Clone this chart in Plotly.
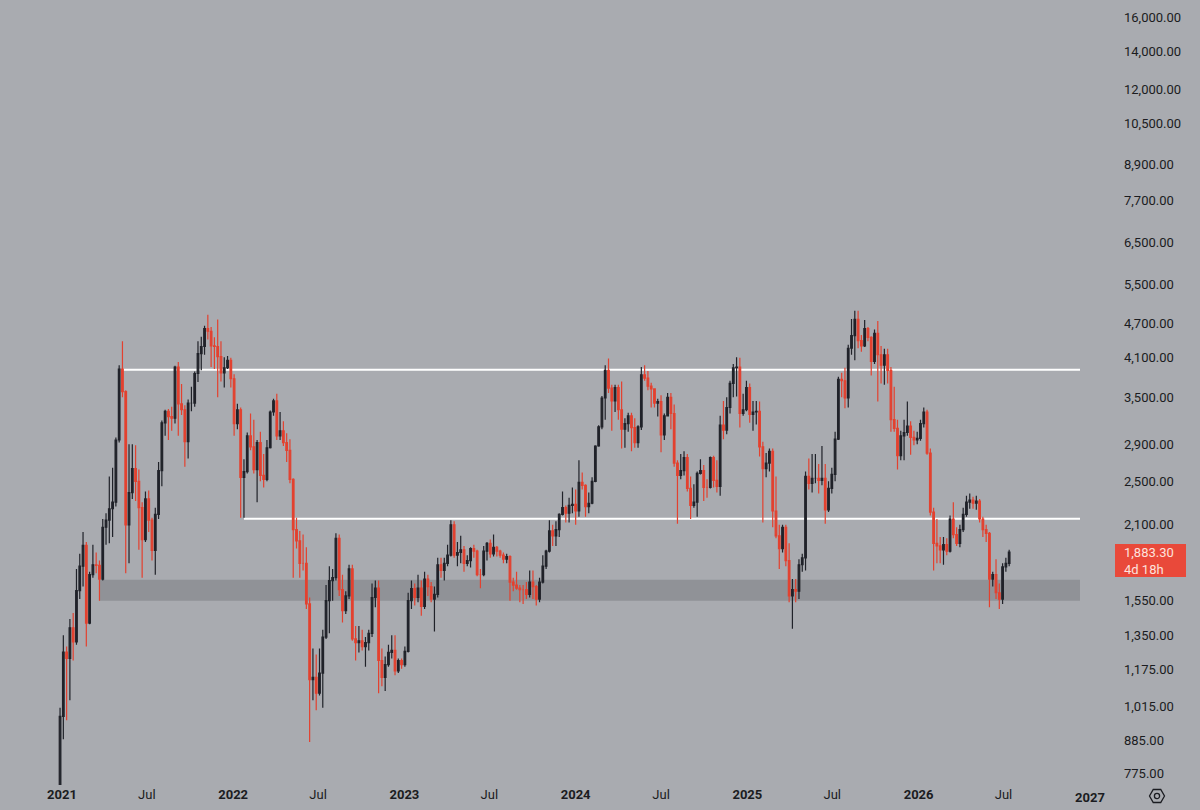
import math
import pandas as pd
import plotly.graph_objects as go

# ---------------- data (weekly candles, week starting Monday) ----------------
first_week = "2020-12-28"
first_open = 737

close_2021 = [975, 1262, 1230, 1391, 1314, 1614, 1780, 1935, 1417, 1720, 1790, 1785, 1690, 2080, 2140, 2240, 2300, 2950,
              3920, 3580, 2100, 2390, 2630, 2500, 2250, 1980, 2330, 2140, 1895, 2190, 2610, 3160, 3310, 3240, 3220, 3950,
              3410, 3330, 2930, 3420, 3420, 3850, 4170, 4290, 4610, 4560, 4300, 4290, 4120, 3860, 3940, 4060, 3770]
high_2021 = [1010, 1350, 1290, 1440, 1476, 1760, 1870, 2040, 1960, 1740, 1940, 1880, 1820, 2150, 2200, 2550, 2640, 2980,
             3980, 4380, 3600, 2900, 2900, 2890, 2620, 2300, 2400, 2410, 2160, 2250, 2700, 3190, 3330, 3340, 3370, 3970,
             4030, 3690, 3390, 3470, 3650, 3880, 4380, 4460, 4660, 4870, 4640, 4450, 4780, 4380, 4110, 4130, 4100]
low_2021 = [714, 890, 960, 1040, 1220, 1300, 1560, 1640, 1290, 1410, 1700, 1730, 1550, 1680, 1940, 1950, 2000, 2260,
            2920, 3500, 1730, 1800, 2330, 2310, 1900, 1700, 1960, 2040, 1820, 1720, 2150, 2450, 3000, 2950, 3060, 3150,
            3000, 3260, 2650, 2740, 3310, 3370, 3720, 3900, 4150, 4410, 3950, 3920, 3500, 3730, 3640, 3920, 3640]

close_2022 = [3150, 3330, 2540, 2600, 3000, 2870, 2620, 2920, 2560, 2520, 2860, 3300, 3450, 3000, 3060, 2920, 2830, 2520,
              2060, 1970, 1800, 1800, 1530, 1130, 1140, 1070, 1160, 1340, 1550, 1680, 1700, 1990, 1620, 1490, 1580, 1760,
              1330, 1310, 1320, 1290, 1310, 1360, 1570, 1630, 1220, 1140, 1200, 1260, 1270, 1170, 1220, 1200]
high_2022 = [3840, 3410, 3360, 2730, 3040, 3280, 3200, 2950, 3050, 2790, 2950, 3320, 3480, 3550, 3300, 3180, 3030, 2960,
             2530, 2160, 2050, 2020, 1920, 1570, 1280, 1250, 1280, 1380, 1650, 1780, 1760, 2030, 2020, 1720, 1610, 1790,
             1790, 1400, 1400, 1380, 1340, 1380, 1660, 1680, 1680, 1280, 1240, 1300, 1350, 1350, 1230, 1230]
low_2022 = [3000, 3080, 2160, 2160, 2580, 2830, 2580, 2300, 2500, 2440, 2500, 2850, 3250, 2950, 2950, 2880, 2700, 2480,
            1700, 1910, 1700, 1750, 1500, 880, 1040, 1000, 1060, 1010, 1330, 1360, 1550, 1680, 1580, 1420, 1470, 1560,
            1320, 1220, 1260, 1270, 1190, 1270, 1340, 1510, 1070, 1100, 1080, 1190, 1230, 1150, 1160, 1180]

close_2023 = [1265, 1550, 1627, 1570, 1630, 1515, 1690, 1640, 1560, 1590, 1790, 1750, 1800, 1860, 2100, 1860, 1880, 1900,
              1800, 1820, 1910, 1890, 1720, 1720, 1890, 1950, 1870, 1920, 1890, 1860, 1830, 1850, 1670, 1650, 1630, 1620,
              1620, 1590, 1670, 1640, 1560, 1670, 1780, 1890, 2050, 2010, 2060, 2190, 2250, 2200, 2270, 2280]
high_2023 = [1290, 1600, 1680, 1660, 1720, 1680, 1740, 1720, 1670, 1640, 1840, 1840, 1840, 1940, 2140, 2130, 1960, 2010,
             1930, 1860, 1920, 1940, 1900, 1760, 1930, 1960, 1980, 2020, 1930, 1900, 1880, 1870, 1860, 1700, 1740, 1650,
             1650, 1670, 1750, 1750, 1650, 1700, 1860, 1900, 2140, 2100, 2130, 2200, 2400, 2270, 2340, 2440]
low_2023 = [1190, 1260, 1500, 1520, 1540, 1460, 1500, 1580, 1540, 1370, 1570, 1700, 1680, 1780, 1850, 1840, 1780, 1800,
            1740, 1780, 1770, 1840, 1710, 1630, 1710, 1820, 1840, 1850, 1850, 1840, 1800, 1800, 1550, 1610, 1620, 1540,
            1530, 1560, 1570, 1560, 1520, 1540, 1660, 1760, 1880, 1930, 1930, 2000, 2180, 2120, 2120, 2200]

close_2024 = [2220, 2490, 2460, 2260, 2290, 2500, 2880, 3110, 3490, 3900, 3630, 3450, 3640, 3330, 3080, 3150, 3250, 3100,
              2920, 3110, 3830, 3780, 3660, 3620, 3420, 3440, 3010, 3250, 3500, 3280, 2690, 2560, 2610, 2750, 2430, 2270,
              2300, 2580, 2610, 2440, 2440, 2750, 2510, 2450, 3130, 3070, 3360, 3700, 3940, 3950, 3280, 3330, 3640]
high_2024 = [2420, 2720, 2590, 2470, 2390, 2540, 2890, 3130, 3520, 3980, 4090, 3680, 3680, 3680, 3730, 3220, 3290, 3290,
             3220, 3130, 3950, 3980, 3890, 3710, 3630, 3480, 3530, 3280, 3560, 3560, 3400, 2720, 2790, 2820, 2790, 2550,
             2470, 2600, 2730, 2670, 2520, 2760, 2770, 2720, 3250, 3450, 3500, 3740, 4000, 4110, 4100, 3550, 3740]
low_2024 = [2100, 2170, 2420, 2170, 2200, 2280, 2490, 2870, 3080, 3200, 3560, 3060, 3300, 3200, 2850, 2860, 3050, 2820,
            2860, 2860, 3070, 3740, 3600, 3360, 3360, 3240, 2810, 2950, 3240, 3080, 2650, 2110, 2520, 2560, 2400, 2150,
            2250, 2170, 2570, 2310, 2340, 2430, 2440, 2390, 2360, 2960, 3020, 3280, 3500, 3510, 3100, 3250, 3310]

close_2025 = [3270, 3300, 3310, 2870, 2630, 2690, 2820, 2220, 2010, 1910, 2080, 1820, 1580, 1620, 1610, 1790, 1840, 2550,
              2480, 2530, 2530, 2510, 2530, 2230, 2430, 2570, 2960, 3760, 3740, 3490, 4260, 4480, 4780, 4390, 4300, 4610,
              4450, 4040, 4520, 4150, 3980, 4150, 3900, 3200, 3090, 2770, 3000, 3040, 3120, 2980, 2950, 2970]
high_2025 = [3700, 3450, 3450, 3440, 2930, 2800, 2850, 2850, 2550, 2100, 2100, 2100, 1950, 1690, 1690, 1830, 1870, 2600,
             2740, 2790, 2790, 2680, 2880, 2680, 2500, 2640, 3050, 3800, 3860, 3940, 4320, 4790, 4950, 4950, 4490, 4770,
             4640, 4470, 4590, 4750, 4300, 4250, 4250, 3950, 3650, 3200, 3060, 3200, 3440, 3180, 3060, 3050]
low_2025 = [3160, 3060, 3140, 2760, 2120, 2540, 2600, 2080, 1990, 1760, 1880, 1780, 1540, 1385, 1540, 1560, 1740, 1750,
            2420, 2390, 2480, 2380, 2460, 2110, 2210, 2380, 2500, 2950, 3500, 3350, 3360, 4150, 4060, 4260, 4200, 4280,
            4380, 3820, 4000, 3440, 3700, 3680, 3700, 3050, 3050, 2620, 2720, 2720, 3000, 2780, 2890, 2900]

close_2026 = [3150, 3300, 2800, 2210, 1950, 1930, 1900, 1940, 1890, 2150, 2020, 1950, 2060, 2190, 2300, 2320, 2290, 2310,
              2150, 2060, 2030, 1690, 1720, 1600, 1560, 1775, 1800, 1883.30]
high_2026 = [3200, 3360, 3330, 2850, 2250, 2150, 2000, 2000, 1990, 2180, 2300, 2080, 2100, 2250, 2360, 2380, 2350, 2360,
             2330, 2170, 2100, 2040, 1740, 1830, 1660, 1800, 1840, 1900]
low_2026 = [2940, 3100, 2780, 2180, 1750, 1800, 1800, 1790, 1860, 1880, 1990, 1930, 1920, 2040, 2170, 2240, 2240, 2230,
            2120, 2000, 1960, 1510, 1640, 1560, 1500, 1530, 1740, 1780]

countdown_text = "4d 18h"

# horizontal levels drawn on the chart
resistance_level = 3908
resistance_start = "2021-05-08"
support_level = 2152
support_start = "2022-01-24"
zone_low, zone_high = 1549, 1685
zone_start = "2021-03-21"

# axis ticks
y_tick_values = [775, 885, 1015, 1175, 1350, 1550, 2100, 2500, 2900, 3500, 4100, 4700, 5500, 6500, 7700, 8900,
                 10500, 12000, 14000, 16000]
x_tick_dates = ["2021-01-01", "2021-07-01", "2022-01-01", "2022-07-01", "2023-01-01", "2023-07-01", "2024-01-01",
                "2024-07-01", "2025-01-01", "2025-07-01", "2026-01-01", "2026-07-01"]
x_tick_labels = ["<b>2021</b>", "Jul", "<b>2022</b>", "Jul", "<b>2023</b>", "Jul", "<b>2024</b>", "Jul",
                 "<b>2025</b>", "Jul", "<b>2026</b>", "Jul"]
extra_year_label = "2027"
x_view = ["2020-08-22", "2026-12-11"]
y_view = [741, 17180]

# ---------------- assemble ----------------
closes = close_2021 + close_2022 + close_2023 + close_2024 + close_2025 + close_2026
highs = high_2021 + high_2022 + high_2023 + high_2024 + high_2025 + high_2026
lows = low_2021 + low_2022 + low_2023 + low_2024 + low_2025 + low_2026
opens = [first_open] + closes[:-1]
highs = [max(h, o, c) for h, o, c in zip(highs, opens, closes)]
lows = [min(l, o, c) for l, o, c in zip(lows, opens, closes)]
dates = pd.date_range(first_week, periods=len(closes), freq="7D")

BG = "#a9abb0"
UP = "#202229"
DOWN = "#e3412f"
TXT = "#1b1c21"
FONT = "Roboto, 'Noto Sans', Arial, sans-serif"
PLOT_H = 785  # plot area height in px (810 - bottom margin)


def py2paper(py):
    return 1 - py / PLOT_H


fig = go.Figure()
fig.add_trace(go.Candlestick(
    x=dates, open=opens, high=highs, low=lows, close=closes,
    increasing=dict(line=dict(color=UP, width=1.2), fillcolor=UP),
    decreasing=dict(line=dict(color=DOWN, width=1.2), fillcolor=DOWN),
    whiskerwidth=0, hoverinfo="skip", showlegend=False,
))

shapes = [
    dict(type="rect", xref="x", yref="y", x0=zone_start, x1=x_view[1], y0=zone_low, y1=zone_high,
         fillcolor="#909297", line=dict(width=0), layer="below"),
    dict(type="line", xref="x", yref="y", x0=resistance_start, x1=x_view[1], y0=resistance_level,
         y1=resistance_level, line=dict(color="#ffffff", width=2), layer="below"),
    dict(type="line", xref="x", yref="y", x0=support_start, x1=x_view[1], y0=support_level,
         y1=support_level, line=dict(color="#ffffff", width=2), layer="below"),
]

# settings (gear) icon below the price scale
gx, gy, r = 1157, 796, 7.5
hex_pts = []
for k in range(6):
    a = math.radians(60 * k)
    hex_pts.append(((gx + r * math.cos(a)) / 1200, py2paper(gy + r * math.sin(a))))
path = "M " + " L ".join(f"{x:.5f},{y:.5f}" for x, y in hex_pts) + " Z"
shapes.append(dict(type="path", xref="paper", yref="paper", path=path, line=dict(color=TXT, width=1.3)))
shapes.append(dict(type="circle", xref="paper", yref="paper",
                   x0=(gx - 2.6) / 1200, x1=(gx + 2.6) / 1200,
                   y0=py2paper(gy + 2.6), y1=py2paper(gy - 2.6),
                   line=dict(color=TXT, width=1.3)))

# last price label box
last_close = closes[-1]
shapes.append(dict(type="rect", xref="paper", yref="paper", x0=1115 / 1200, x1=1186 / 1200,
                   y0=py2paper(577), y1=py2paper(544), fillcolor="#e9493a", line=dict(width=0)))

annotations = [
    dict(xref="paper", yref="paper", x=1122 / 1200, y=py2paper(560.5), xanchor="left", yanchor="middle",
         text=f"{last_close:,.2f}<br>{countdown_text}", showarrow=False, align="left",
         font=dict(family=FONT, size=13, color="#fde2dd")),
    dict(xref="paper", yref="paper", x=1090 / 1200, y=py2paper(797), xanchor="center", yanchor="middle",
         text=f"<b>{extra_year_label}</b>", showarrow=False, font=dict(family=FONT, size=13, color=TXT)),
]

fig.update_layout(
    width=1200, height=810,
    margin=dict(l=0, r=0, t=0, b=25),
    paper_bgcolor=BG, plot_bgcolor=BG,
    showlegend=False,
    shapes=shapes, annotations=annotations,
    xaxis=dict(domain=[0, 0.9], type="date", range=x_view, rangeslider=dict(visible=False),
               showgrid=False, zeroline=False, showline=False, ticks="",
               tickmode="array", tickvals=x_tick_dates, ticktext=x_tick_labels,
               tickfont=dict(family=FONT, size=13, color=TXT)),
    yaxis=dict(type="log", side="right", anchor="x", range=[math.log10(y_view[0]), math.log10(y_view[1])],
               showgrid=False, zeroline=False, showline=False, ticks="",
               tickmode="array", tickvals=y_tick_values, ticktext=[f"{v:,.2f}" for v in y_tick_values],
               ticklabelstandoff=43,
               tickfont=dict(family=FONT, size=13, color=TXT)),
)

fig.write_html("out.html")
